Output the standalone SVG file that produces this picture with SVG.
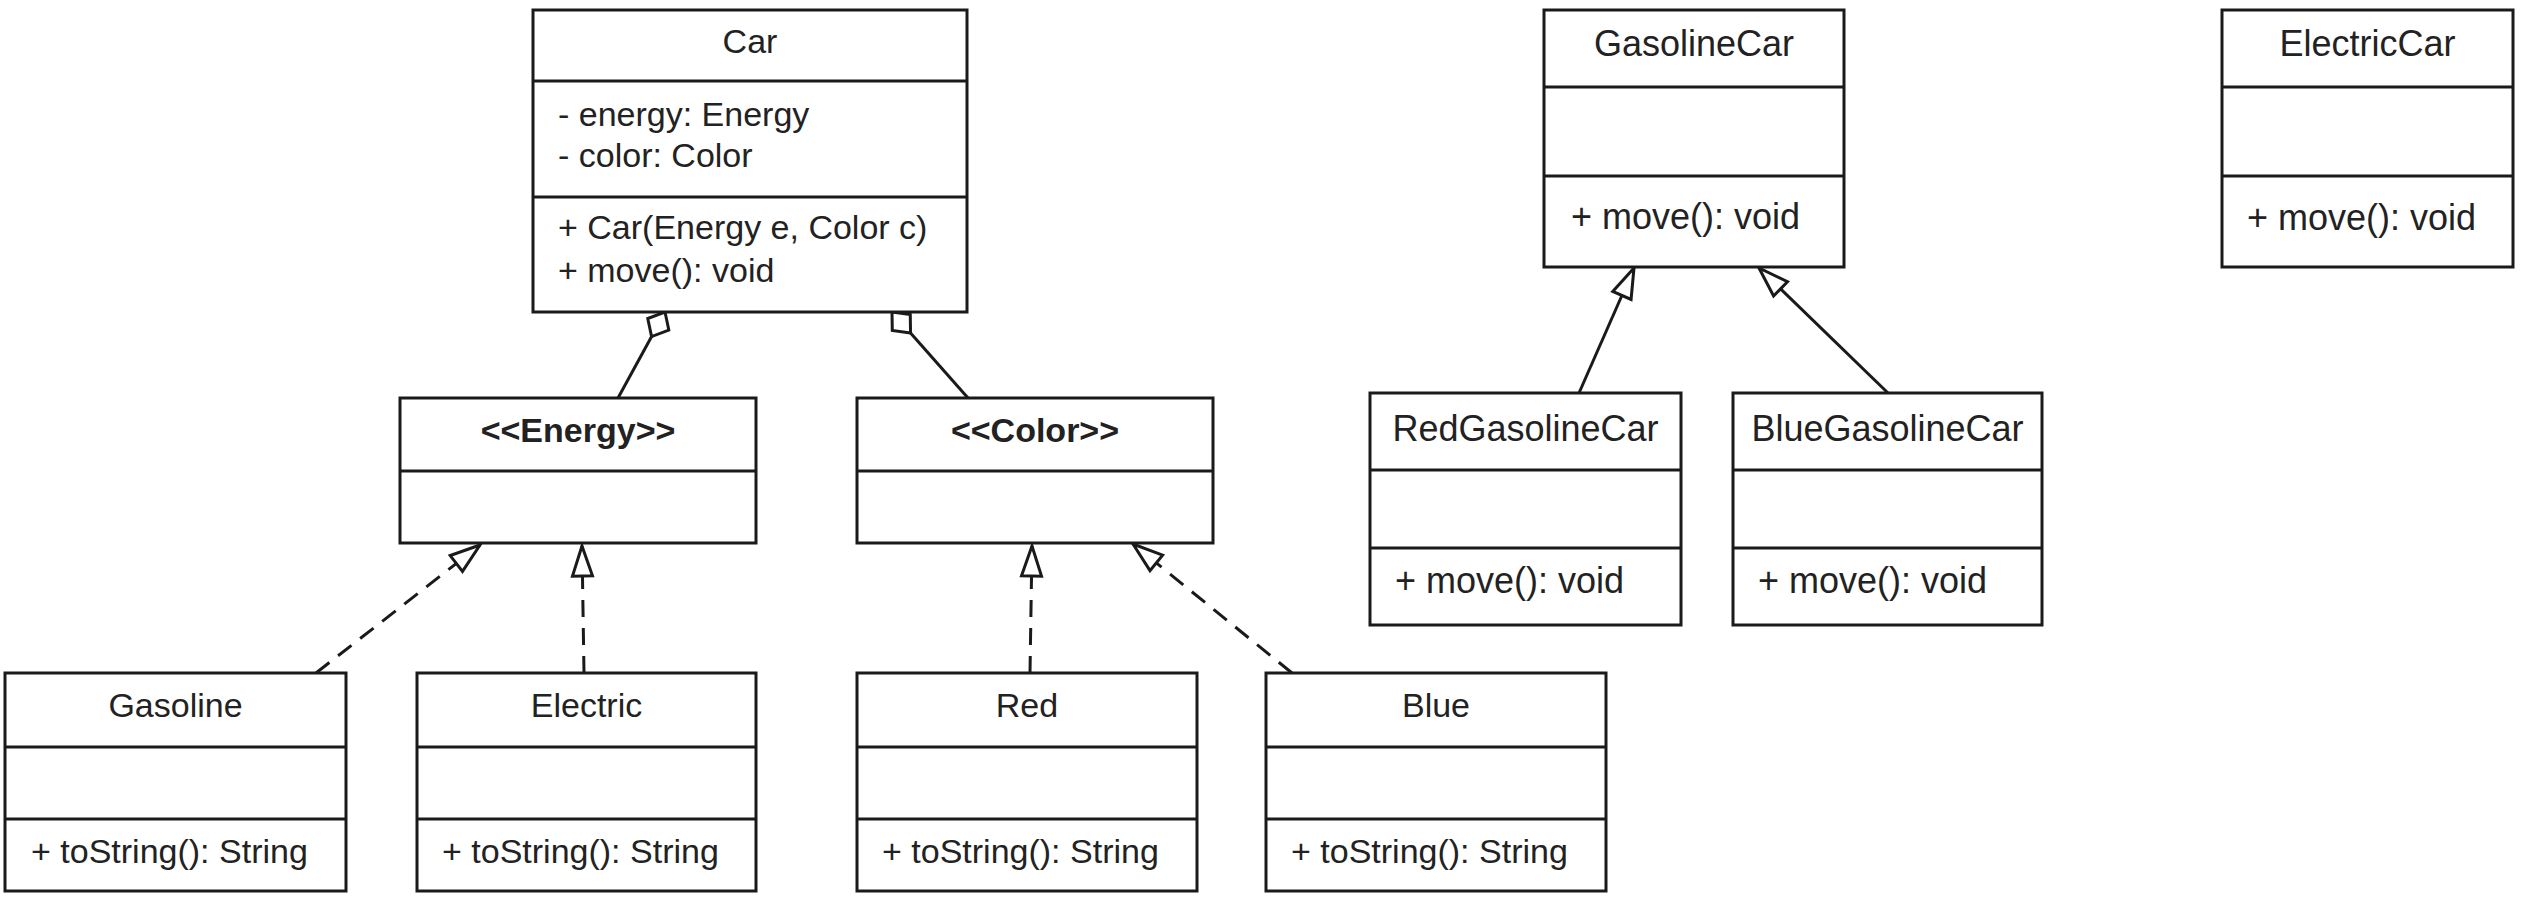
<svg xmlns="http://www.w3.org/2000/svg" width="2523" height="899" viewBox="0 0 2523 899">
  <style>
    .box { fill: #ffffff; stroke: #1a1a1a; stroke-width: 3; }
    .sep { stroke: #1a1a1a; stroke-width: 3; }
    .t { font-family: "Liberation Sans", Arial, sans-serif; font-size: 34px; fill: #222222; }
    .r { font-size: 36px; }
    .c { text-anchor: middle; }
    .b { font-weight: bold; }
    .edge { fill: none; stroke: #1a1a1a; stroke-width: 3; }
    .dash { stroke-dasharray: 17 11; }
  </style>
  <defs>
    <marker id="tri" markerUnits="userSpaceOnUse" viewBox="-34 -14 38 28" markerWidth="38" markerHeight="28" refX="0" refY="0" orient="auto" overflow="visible">
      <path d="M0,0 L-30,-10 L-30,10 Z" fill="#ffffff" stroke="#1a1a1a" stroke-width="3" stroke-dasharray="none" stroke-linejoin="miter"/>
    </marker>
    <marker id="dia" markerUnits="userSpaceOnUse" viewBox="-2 -16 32 32" markerWidth="32" markerHeight="32" refX="0" refY="0" orient="auto" overflow="visible">
      <path d="M0,0 L14,-12 L28,0 L14,12 Z" fill="#ffffff" stroke="#1a1a1a" stroke-width="3" stroke-dasharray="none"/>
    </marker>
  </defs>
  <rect width="2523" height="899" fill="#ffffff"/>

  <g id="connectors">
    <path class="edge" d="M665,312 L618,398" marker-start="url(#dia)"/>
    <path class="edge" d="M892,312 L968,398" marker-start="url(#dia)"/>
    <path class="edge dash" d="M316,673 L480,545" marker-end="url(#tri)"/>
    <path class="edge dash" d="M584,673 L582,546" marker-end="url(#tri)"/>
    <path class="edge dash" d="M1030,673 L1032,546" marker-end="url(#tri)"/>
    <path class="edge dash" d="M1292,673 L1133,544" marker-end="url(#tri)"/>
    <path class="edge" d="M1579,393 L1634,268" marker-end="url(#tri)"/>
    <path class="edge" d="M1888,393 L1759,268" marker-end="url(#tri)"/>
  </g>

  <g id="Car">
    <rect class="box" x="533" y="10" width="434" height="302"/>
    <line class="sep" x1="533" y1="81" x2="967" y2="81"/>
    <line class="sep" x1="533" y1="197" x2="967" y2="197"/>
    <text class="t c" x="750" y="53">Car</text>
    <text class="t" x="558" y="126">- energy: Energy</text>
    <text class="t" x="558" y="167">- color: Color</text>
    <text class="t" x="558" y="239">+ Car(Energy e, Color c)</text>
    <text class="t" x="558" y="282">+ move(): void</text>
  </g>

  <g id="Energy">
    <rect class="box" x="400" y="398" width="356" height="145"/>
    <line class="sep" x1="400" y1="471" x2="756" y2="471"/>
    <text class="t c b" x="578" y="442">&lt;&lt;Energy&gt;&gt;</text>
  </g>

  <g id="Color">
    <rect class="box" x="857" y="398" width="356" height="145"/>
    <line class="sep" x1="857" y1="471" x2="1213" y2="471"/>
    <text class="t c b" x="1035" y="442">&lt;&lt;Color&gt;&gt;</text>
  </g>

  <g id="Gasoline">
    <rect class="box" x="5" y="673" width="341" height="218"/>
    <line class="sep" x1="5" y1="747" x2="346" y2="747"/>
    <line class="sep" x1="5" y1="819" x2="346" y2="819"/>
    <text class="t c" x="175.5" y="717">Gasoline</text>
    <text class="t" x="31" y="863">+ toString(): String</text>
  </g>

  <g id="Electric">
    <rect class="box" x="417" y="673" width="339" height="218"/>
    <line class="sep" x1="417" y1="747" x2="756" y2="747"/>
    <line class="sep" x1="417" y1="819" x2="756" y2="819"/>
    <text class="t c" x="586.5" y="717">Electric</text>
    <text class="t" x="442" y="863">+ toString(): String</text>
  </g>

  <g id="Red">
    <rect class="box" x="857" y="673" width="340" height="218"/>
    <line class="sep" x1="857" y1="747" x2="1197" y2="747"/>
    <line class="sep" x1="857" y1="819" x2="1197" y2="819"/>
    <text class="t c" x="1027" y="717">Red</text>
    <text class="t" x="882" y="863">+ toString(): String</text>
  </g>

  <g id="Blue">
    <rect class="box" x="1266" y="673" width="340" height="218"/>
    <line class="sep" x1="1266" y1="747" x2="1606" y2="747"/>
    <line class="sep" x1="1266" y1="819" x2="1606" y2="819"/>
    <text class="t c" x="1436" y="717">Blue</text>
    <text class="t" x="1291" y="863">+ toString(): String</text>
  </g>

  <g id="GasolineCar">
    <rect class="box" x="1544" y="10" width="300" height="257"/>
    <line class="sep" x1="1544" y1="87" x2="1844" y2="87"/>
    <line class="sep" x1="1544" y1="176" x2="1844" y2="176"/>
    <text class="t r c" x="1694" y="56">GasolineCar</text>
    <text class="t r" x="1571" y="229">+ move(): void</text>
  </g>

  <g id="ElectricCar">
    <rect class="box" x="2222" y="10" width="291" height="257"/>
    <line class="sep" x1="2222" y1="87" x2="2513" y2="87"/>
    <line class="sep" x1="2222" y1="176" x2="2513" y2="176"/>
    <text class="t r c" x="2367.5" y="56">ElectricCar</text>
    <text class="t r" x="2247" y="230">+ move(): void</text>
  </g>

  <g id="RedGasolineCar">
    <rect class="box" x="1370" y="393" width="311" height="232"/>
    <line class="sep" x1="1370" y1="470" x2="1681" y2="470"/>
    <line class="sep" x1="1370" y1="548" x2="1681" y2="548"/>
    <text class="t r c" x="1525.5" y="441">RedGasolineCar</text>
    <text class="t r" x="1395" y="593">+ move(): void</text>
  </g>

  <g id="BlueGasolineCar">
    <rect class="box" x="1733" y="393" width="309" height="232"/>
    <line class="sep" x1="1733" y1="470" x2="2042" y2="470"/>
    <line class="sep" x1="1733" y1="548" x2="2042" y2="548"/>
    <text class="t r c" x="1887.5" y="441">BlueGasolineCar</text>
    <text class="t r" x="1758" y="593">+ move(): void</text>
  </g>
</svg>
